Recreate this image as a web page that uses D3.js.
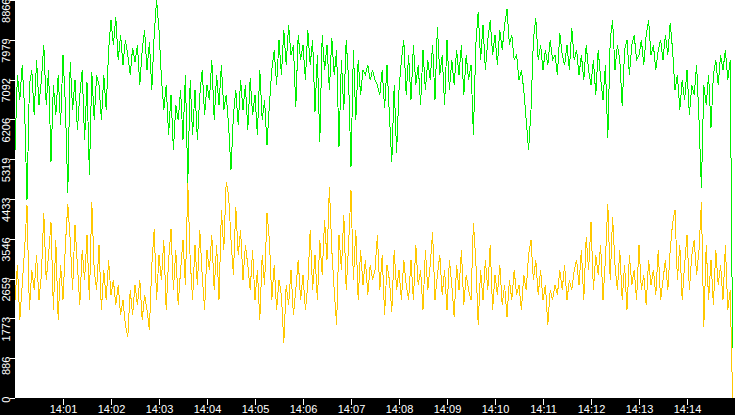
<!DOCTYPE html>
<html>
<head>
<meta charset="utf-8">
<script src="https://cdn.jsdelivr.net/npm/d3@7"></script>
<style>
  html, body { margin: 0; padding: 0; background: #fff; }
  svg { display: block; }
  text { font-family: "Liberation Sans", Arial, sans-serif; font-size: 11px; fill: #fff; }
</style>
</head>
<body>
<svg id="chart" width="735" height="415"></svg>
<script>
// ---- data ----
const startTime = "14:00:00";   // first sample
const sampleSeconds = 3;        // sampling interval
const yMax = 8866;
const yTickLabels = ["0","886","1773","2659","3546","4433","5319","6206","7092","7979","8866"];
const xTickLabels = ["14:01","14:02","14:03","14:04","14:05","14:06","14:07","14:08","14:09","14:10","14:11","14:12","14:13","14:14"];

const greenSeries = [
5525,7195,6638,7418,6460,4411,6973,7307,6304,7529,6527,7084,7864,6527,7307,5257,6973,6304,7195,6082,
7641,6527,4567,7485,6416,7084,5970,6750,7307,5747,7039,4968,7262,6193,7195,6973,6193,7195,6416,7752,
8421,7864,8487,7529,8086,7418,7975,7641,7195,7797,7485,7864,6973,7752,8198,7307,7930,6861,8086,8866,
8198,7129,6416,6973,5859,6750,5525,6527,6193,6861,5747,7195,4789,7084,5859,6861,5747,6750,7307,6304,
6973,6638,7529,6193,7195,6527,7418,6416,6750,6082,5079,6304,6861,6082,7084,6416,6973,5970,7129,6304,
6750,5859,7307,6193,6638,5636,6527,7307,7752,6973,7975,7195,8198,7418,8309,7641,7864,6483,8086,7529,
7864,7084,8198,7418,7975,6371,7641,5703,8086,7307,7864,6861,8020,7195,7752,5591,7529,6416,7975,7084,
5146,7752,6193,7529,6750,7307,7195,7418,7084,7307,7084,6973,6750,7307,6460,7418,6304,5257,6973,5458,
6861,7529,7975,6750,7641,6638,7864,6973,7418,6527,7752,6861,7529,7084,7864,6638,8265,7195,7641,6527,
7975,6861,7529,6973,7752,7195,7864,6750,7641,7084,7418,5859,7864,8599,7529,8309,7307,7975,8421,7641,
8086,7418,8198,7752,8309,8666,7864,8086,7529,7641,7084,7307,6861,6193,5525,6416,7975,8465,7529,7864,
7307,7752,7418,7975,7529,7641,7195,8131,7641,7418,7864,7307,8243,7529,7752,7195,7641,7084,7864,7307,
6973,7529,6750,7752,7129,6638,7418,5792,7975,8421,7307,7864,7529,6505,7752,7975,7195,7864,8086,7529,
7641,7975,7418,8086,8421,7641,7864,7307,7752,7975,7529,8086,7641,8354,7752,6861,7195,6416,7084,6638,
7307,6304,6973,6750,7418,6193,4678,6973,6527,7195,6015,7195,7529,6973,7641,7307,7752,7084,7529,1114
];

const yellowSeries = [
2183,2963,1738,2517,3297,4300,1960,2851,2406,3186,2183,2740,4121,2629,3186,3921,1960,3520,1738,2963,
2183,3409,4322,3520,2406,3854,2963,2072,3297,2629,3631,2183,4366,2851,2406,3409,1960,2851,2183,3074,
2295,2629,2072,2517,1849,2183,1626,1359,2406,1849,2517,2072,2629,1738,2295,1960,1515,2963,3765,2183,
3186,2629,3520,1960,3074,3765,2406,3297,2072,2851,3520,2517,4789,3074,2183,3409,2517,3743,2740,1960,
3297,2851,3631,2406,3409,2183,4188,3297,4812,4522,3520,2740,4255,3186,3743,2629,3409,2963,2406,3297,
2183,2851,1738,3186,2517,4121,3520,2183,2963,1960,2629,2295,1225,2517,2072,2851,1849,2406,3074,2183,
2740,1960,2517,3743,2406,3186,2183,3520,2740,3965,3074,4700,3297,2406,1626,3631,2851,4077,2406,3409,
4634,2629,3743,2183,3297,2517,3074,2295,2963,2629,2851,3631,2406,3186,1849,2963,2629,1916,3297,2406,
2851,2183,3074,2517,2183,3074,2183,3409,2517,2851,1960,3297,2406,2963,3698,2183,2740,3186,2295,2851,
1960,3074,2517,1805,2963,2406,3297,2072,2740,2406,2183,3899,3074,1626,2851,2183,3074,2406,3409,1960,
2740,2295,2963,2072,2517,1805,2629,2183,2851,2295,2517,1960,2740,2406,3186,3520,2629,3074,2295,2851,
2183,2517,1626,2406,2183,2517,2295,2851,2406,2963,2183,2629,2406,2851,3074,2517,3297,2183,3587,2851,
3921,2406,3186,2740,3409,2183,3074,4322,2629,4032,2963,2406,3297,2183,2963,1960,3186,2517,2851,2183,
3409,2406,2740,2072,3074,2517,2851,2295,3297,2183,2629,3074,2406,3297,3899,4188,2629,3409,2183,2963,
3631,2406,3186,3520,2740,3297,4366,1582,3409,2183,3074,2072,3297,2517,2963,2183,3409,1960,2406,0
];

// ---- layout ----
const W = 735, H = 415;
const plotLeft = 15, plotBottom = 398;

const svg = d3.select("#chart");
const parse = d3.timeParse("%H:%M:%S");
const t0 = parse(startTime);
const times = greenSeries.map((_, i) => new Date(t0.getTime() + i * sampleSeconds * 1000));

const x = d3.scaleTime()
  .domain([t0, new Date(t0.getTime() + 15 * 60 * 1000)])
  .range([plotLeft, W]);
const y = d3.scaleLinear().domain([0, yMax]).range([plotBottom, 0]);

svg.append("rect").attr("width", W).attr("height", H).attr("fill", "#fff");

// series
const line = d3.line()
  .x((d, i) => x(times[i]))
  .y(d => y(d));

svg.append("path")
  .datum(greenSeries)
  .attr("d", line)
  .attr("fill", "none")
  .attr("stroke", "#00f000")
  .attr("stroke-width", 1)
  .attr("shape-rendering", "crispEdges");

svg.append("path")
  .datum(yellowSeries)
  .attr("d", line)
  .attr("fill", "none")
  .attr("stroke", "#ffc800")
  .attr("stroke-width", 1)
  .attr("shape-rendering", "crispEdges");

// axis backgrounds
svg.append("rect").attr("x", 0).attr("y", 0).attr("width", plotLeft).attr("height", H).attr("fill", "#000");
svg.append("rect").attr("x", 0).attr("y", plotBottom).attr("width", W).attr("height", H - plotBottom).attr("fill", "#000");

// y axis
const yTickVals = yTickLabels.map((_, i) => i * yMax / 10);
const yAxis = d3.axisLeft(y)
  .tickValues(yTickVals)
  .tickSize(5)
  .tickFormat((d, i) => yTickLabels[i]);
const gy = svg.append("g").attr("transform", `translate(${plotLeft},0)`).call(yAxis);
gy.select(".domain").remove();
gy.selectAll("line").attr("stroke", "#fff").attr("shape-rendering", "crispEdges");
gy.selectAll("text")
  .attr("x", 0).attr("dy", null)
  .attr("text-anchor", "end")
  .attr("fill", "#fff")
  .attr("transform", "translate(-5.5,-2) rotate(-90)");

// x axis
const xTickVals = xTickLabels.map(s => parse(s + ":00"));
const xAxis = d3.axisBottom(x)
  .tickValues(xTickVals)
  .tickSize(6)
  .tickFormat((d, i) => xTickLabels[i]);
const gx = svg.append("g").attr("transform", `translate(0,${plotBottom + 1})`).call(xAxis);
gx.select(".domain").remove();
gx.selectAll("line").attr("stroke", "#fff").attr("shape-rendering", "crispEdges");
gx.selectAll("text").attr("y", 14).attr("dy", null).attr("fill", "#fff");
</script>
</body>
</html>
